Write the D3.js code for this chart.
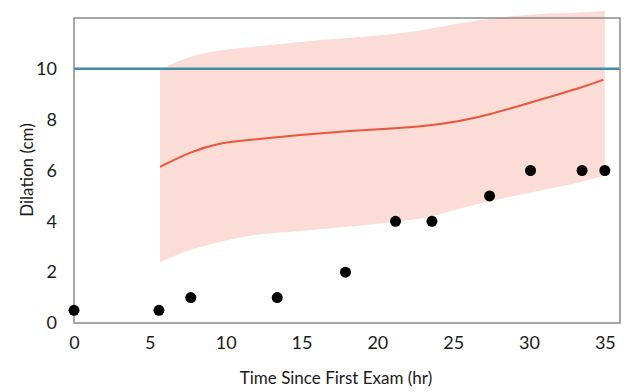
<!DOCTYPE html>
<html>
<head>
<meta charset="utf-8">
<script src="https://cdn.jsdelivr.net/npm/d3@7"></script>
<style>
  body { margin: 0; background: #fff; }
  svg text { font-family: Lato, "Open Sans", sans-serif; fill: #1a1a1a; }
</style>
</head>
<body>
<svg id="chart"></svg>
<script>
let width = 639;
let height = 392;

// measured exams
let examHours = [0, 5.6, 7.7, 13.4, 17.9, 21.2, 23.6, 27.4, 30.1, 33.5, 35];
let examDilation = [0.5, 0.5, 1, 1, 2, 4, 4, 5, 6, 6, 6];

// expected progress curve (mean + band)
let curveHours = [5.67, 7.65, 9.62, 11.6, 14.9, 18.2, 21.5, 22.8, 25.4, 27.4, 29.4, 31.4, 33.4, 34.9];
let curveMean  = [6.14, 6.73, 7.09, 7.20, 7.40, 7.56, 7.68, 7.72, 7.93, 8.20, 8.55, 8.90, 9.25, 9.57];
let bandHours  = [5.67, 7.65, 9.62, 11.6, 14.9, 18.2, 21.5, 23.5, 25.4, 28.1, 30.7, 33.4, 35.0];
let bandLow    = [2.40, 2.87, 3.19, 3.43, 3.62, 3.80, 4.00, 4.18, 4.50, 4.88, 5.20, 5.55, 5.80];
let bandHigh   = [9.96, 10.47, 10.72, 10.85, 11.06, 11.22, 11.40, 11.58, 11.78, 12.02, 12.16, 12.22, 12.28];

let fullDilation = 10;

let xTicks = [0, 5, 10, 15, 20, 25, 30, 35];
let yTicks = [0, 2, 4, 6, 8, 10];

let svg = d3.select("#chart").attr("width", width).attr("height", height);

let xScale = d3.scaleLinear().domain([0, 36]).range([74, 620]);
let yScale = d3.scaleLinear().domain([0, 12]).range([323, 18]);

// band
let band = bandHours.map((h, i) => ({ h: h, lo: bandLow[i], hi: bandHigh[i] }));
svg.append("path")
    .datum(band)
    .attr("fill", "#fcdcd6")
    .attr("d", d3.area()
        .x(d => xScale(d.h))
        .y0(d => yScale(d.lo))
        .y1(d => yScale(d.hi))
        .curve(d3.curveMonotoneX));

// full dilation line
svg.append("line")
    .attr("x1", xScale(0)).attr("x2", xScale(36))
    .attr("y1", yScale(fullDilation)).attr("y2", yScale(fullDilation))
    .attr("stroke", "#3f8ea6")
    .attr("stroke-width", 2.5);

// mean line
let mean = curveHours.map((h, i) => ({ h: h, v: curveMean[i] }));
svg.append("path")
    .datum(mean)
    .attr("fill", "none")
    .attr("stroke", "#e8563c")
    .attr("stroke-width", 2)
    .attr("d", d3.line()
        .x(d => xScale(d.h))
        .y(d => yScale(d.v))
        .curve(d3.curveBasis));

// frame
svg.append("rect")
    .attr("x", xScale(0)).attr("y", yScale(12))
    .attr("width", xScale(36) - xScale(0))
    .attr("height", yScale(0) - yScale(12))
    .attr("fill", "none")
    .attr("stroke", "#8a8a8a")
    .attr("stroke-width", 1.5);

// axes (labels only, no tick marks)
let xAxis = d3.axisBottom(xScale).tickValues(xTicks).tickSize(0).tickPadding(13);
svg.append("g")
    .attr("transform", "translate(0," + yScale(0) + ")")
    .call(xAxis)
    .call(g => g.select(".domain").remove())
    .selectAll("text").style("font-size", "18px").attr("fill", "#1a1a1a");

let yAxis = d3.axisLeft(yScale).tickValues(yTicks).tickSize(0).tickPadding(17);
svg.append("g")
    .attr("transform", "translate(" + xScale(0) + ",0)")
    .call(yAxis)
    .call(g => g.select(".domain").remove())
    .selectAll("text").style("font-size", "18px").attr("fill", "#1a1a1a");

// points
svg.selectAll("circle.exam")
    .data(examHours)
    .enter()
    .append("circle")
    .attr("class", "exam")
    .attr("cx", d => xScale(d))
    .attr("cy", (d, i) => yScale(examDilation[i]))
    .attr("r", 5.5)
    .attr("fill", "#000");

// titles
svg.append("text")
    .attr("x", 336).attr("y", 384)
    .attr("text-anchor", "middle")
    .style("font-size", "17px")
    .text("Time Since First Exam (hr)");

svg.append("text")
    .attr("transform", "translate(33,170) rotate(-90)")
    .attr("text-anchor", "middle")
    .style("font-size", "17px")
    .text("Dilation (cm)");
</script>
</body>
</html>
